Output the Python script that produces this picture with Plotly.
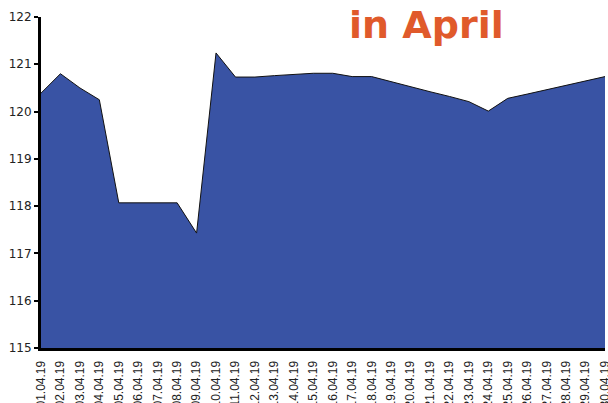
import plotly.graph_objects as go

dates = ["01.04.19","02.04.19","03.04.19","04.04.19","05.04.19","06.04.19","07.04.19","08.04.19",
         "09.04.19","10.04.19","11.04.19","12.04.19","13.04.19","14.04.19","15.04.19","16.04.19",
         "17.04.19","18.04.19","19.04.19","20.04.19","21.04.19","22.04.19","23.04.19","24.04.19",
         "25.04.19","26.04.19","27.04.19","28.04.19","29.04.19","30.04.19"]
values = [120.39, 120.80, 120.50, 120.25, 118.07, 118.07, 118.07, 118.07,
          117.43, 121.24, 120.73, 120.73, 120.76, 120.78, 120.81, 120.81,
          120.74, 120.74, 120.63, 120.53, 120.42, 120.32, 120.21, 120.01,
          120.28, 120.37, 120.46, 120.55, 120.65, 120.74]
y_ticks = [115, 116, 117, 118, 119, 120, 121, 122]
title_text = "in April"

idx = list(range(len(dates)))

fig = go.Figure()
fig.add_trace(go.Scatter(
    x=idx, y=values, mode="lines", fill="tozeroy",
    fillcolor="#3953A4", line=dict(color="#111111", width=1),
    hoverinfo="skip", showlegend=False,
))

fig.update_layout(
    width=608, height=403,
    margin=dict(l=41, r=3, t=17, b=55),
    paper_bgcolor="white", plot_bgcolor="white",
    font=dict(family="DejaVu Sans", color="#222222"),
    xaxis=dict(
        range=[0, len(dates) - 1], tickmode="array", tickvals=idx, ticktext=dates,
        tickangle=-90, tickfont=dict(size=12, family="Liberation Sans", color="#222222"),
        showgrid=False, zeroline=False, showline=True, linecolor="black", linewidth=3,
        ticks="", automargin=False, ticklabelstandoff=5, ticklabeloverflow="allow",
    ),
    yaxis=dict(
        range=[115, 122], tickmode="array", tickvals=y_ticks,
        tickfont=dict(size=12, family="DejaVu Sans", color="#222222"),
        showgrid=False, zeroline=False, showline=True, linecolor="black", linewidth=3,
        ticks="outside", ticklen=4, tickwidth=2, tickcolor="black", automargin=False,
    ),
    annotations=[dict(
        text="<b>" + title_text + "</b>", xref="paper", yref="paper",
        x=0.684, y=0.976, xanchor="center", yanchor="middle", showarrow=False,
        font=dict(size=38, color="#E05A2B", family="DejaVu Sans"),
    )],
)

fig.write_html(
    "out.html",
    config={"displayModeBar": False, "staticPlot": True},
    post_script="document.body.style.margin='0';document.body.style.overflow='hidden';",
)
